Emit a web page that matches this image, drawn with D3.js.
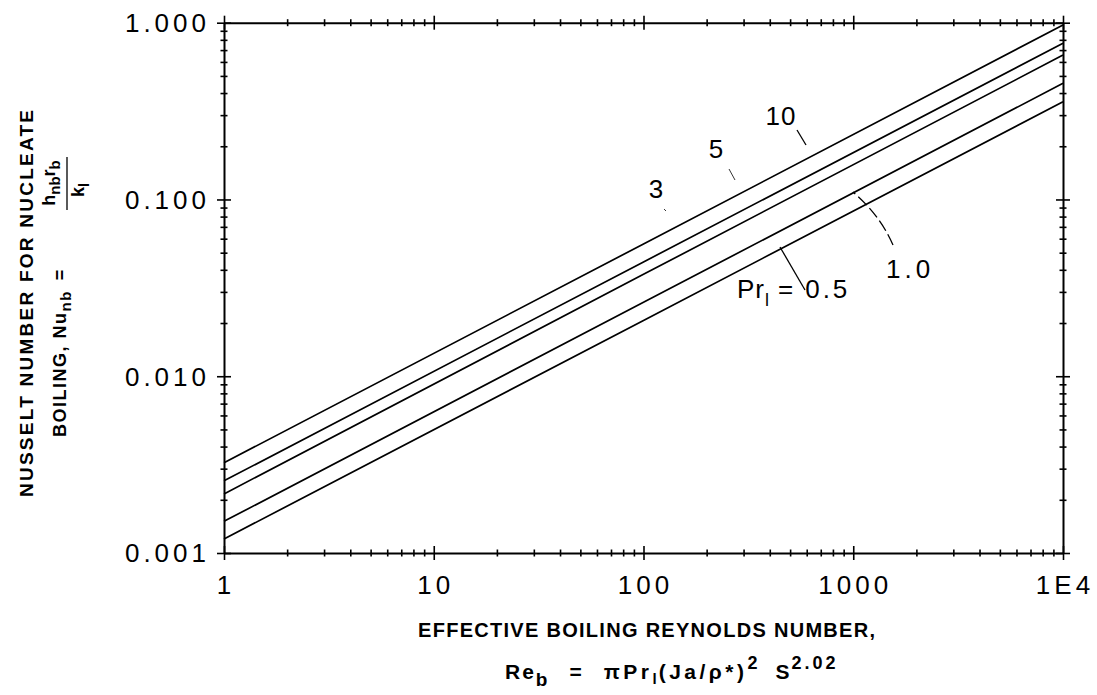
<!DOCTYPE html>
<html><head><meta charset="utf-8">
<script src="https://cdn.jsdelivr.net/npm/d3@7"></script>
<style>body{margin:0;background:#fff}svg{display:block}</style>
</head><body><svg id="c" width="1097" height="695"></svg>
<script>
// ---- data ----
const reynolds = [1, 100, 10000];
const prandtl = ["0.5", "1.0", "3", "5", "10"];
const nu_pr05 = [0.00120, 0.0207, 0.357];
const nu_pr1  = [0.00151, 0.0262, 0.454];
const nu_pr3  = [0.00216, 0.0377, 0.656];
const nu_pr5  = [0.00256, 0.0443, 0.765];
const nu_pr10 = [0.00324, 0.0560, 0.970];
const xMajor = [1, 10, 100, 1000, 10000];
const xTickLabels = ["1", "10", "100", "1000", "1E4"];
const yMajor = [0.001, 0.01, 0.1, 1];
const yTickLabels = ["0.001", "0.010", "0.100", "1.000"];

const series = [nu_pr05, nu_pr1, nu_pr3, nu_pr5, nu_pr10].map((v, i) => ({
  pr: prandtl[i], pts: reynolds.map((r, j) => [r, v[j]])
}));

const svg = d3.select("#c");
const W = 1097, H = 695;
const m = {left: 224, right: 34, top: 22.7, bottom: 142};
const x = d3.scaleLog().domain([1, 1e4]).range([m.left, W - m.right]);
const y = d3.scaleLog().domain([0.001, 1]).range([H - m.bottom, m.top]);

function minors(major) {
  const out = [];
  for (let i = 0; i < major.length - 1; i++)
    for (let k = 2; k <= 9; k++) out.push(major[i] * k);
  return out;
}
const xTicks = xMajor.concat(minors(xMajor));
const yTicks = yMajor.concat(minors(yMajor));
const isMaj = (arr) => (d) => arr.some(v => Math.abs(v - d) / v < 1e-9);

const FONT = "'Liberation Sans', Arial, sans-serif";

// axes (ticks cross the frame line)
function styleAxis(g, major, horiz) {
  g.select(".domain").attr("stroke", "#000").attr("stroke-width", 2);
  g.selectAll(".tick text").remove();
  g.selectAll(".tick line").attr("stroke", "#000").attr("stroke-width", 1.6)
    .each(function (d) {
      const s = isMaj(major)(d) ? 7 : 3.5;
      if (horiz) d3.select(this).attr("y1", -s).attr("y2", s);
      else d3.select(this).attr("x1", -s).attr("x2", s);
    });
}
svg.append("g").attr("transform", `translate(0,${y(0.001)})`)
  .call(d3.axisBottom(x).tickValues(xTicks).tickSizeOuter(0))
  .call(g => styleAxis(g, xMajor, true));
svg.append("g").attr("transform", `translate(0,${y(1)})`)
  .call(d3.axisTop(x).tickValues(xTicks).tickSizeOuter(0))
  .call(g => styleAxis(g, xMajor, true));
svg.append("g").attr("transform", `translate(${x(1)},0)`)
  .call(d3.axisLeft(y).tickValues(yTicks).tickSizeOuter(0))
  .call(g => styleAxis(g, yMajor, false));
svg.append("g").attr("transform", `translate(${x(1e4)},0)`)
  .call(d3.axisRight(y).tickValues(yTicks).tickSizeOuter(0))
  .call(g => styleAxis(g, yMajor, false));

// tick labels
svg.append("g").selectAll("text").data(xMajor).join("text")
  .attr("x", d => x(d) + 2).attr("y", y(0.001) + 41)
  .attr("text-anchor", "middle").attr("font-family", FONT)
  .attr("font-size", 26).attr("letter-spacing", 4)
  .text((d, i) => xTickLabels[i]);
svg.append("g").selectAll("text").data(yMajor).join("text")
  .attr("x", x(1) - 14).attr("y", d => y(d)).attr("dy", "0.36em")
  .attr("text-anchor", "end").attr("font-family", FONT)
  .attr("font-size", 26).attr("letter-spacing", 4)
  .text((d, i) => yTickLabels[i]);

// curves
const line = d3.line().x(d => x(d[0])).y(d => y(d[1]));
svg.append("g").selectAll("path").data(series).join("path")
  .attr("d", d => line(d.pts)).attr("fill", "none")
  .attr("stroke", "#000").attr("stroke-width", 1.7);

// curve annotations
const ann = svg.append("g").attr("font-family", FONT).attr("font-size", 26);
ann.append("text").attr("x", 781).attr("y", 125).attr("text-anchor", "middle").attr("letter-spacing", 1).text(prandtl[4]);
ann.append("text").attr("x", 716).attr("y", 158).attr("text-anchor", "middle").text(prandtl[3]);
ann.append("text").attr("x", 656).attr("y", 198).attr("text-anchor", "middle").text(prandtl[2]);
ann.append("text").attr("x", 886).attr("y", 278).attr("letter-spacing", 4).text(prandtl[1]);
const pt = ann.append("text").attr("x", 737).attr("y", 298);
pt.append("tspan").attr("letter-spacing", 1).text("Pr");
pt.append("tspan").attr("font-size", 18).attr("dy", 8).text("l");
pt.append("tspan").attr("dy", -8).attr("dx", 9).text("=");
pt.append("tspan").attr("dx", 12).attr("letter-spacing", 3).text(prandtl[0]);
const lead = svg.append("g").attr("stroke", "#000").attr("stroke-width", 1.3).attr("fill", "none");
lead.append("line").attr("x1", 797).attr("y1", 130).attr("x2", 806).attr("y2", 145);
lead.append("line").attr("x1", 729).attr("y1", 169).attr("x2", 735).attr("y2", 180).attr("stroke-width", 0.8);
lead.append("line").attr("x1", 664).attr("y1", 209).attr("x2", 666).attr("y2", 211).attr("stroke-width", 0.8);
lead.append("path").attr("d", "M893,245 Q880,215 853,192").attr("stroke-dasharray", "12,4");
lead.append("line").attr("x1", 805).attr("y1", 290).attr("x2", 780).attr("y2", 247);

// x-axis title
const xt = svg.append("g").attr("font-family", FONT);
xt.append("text").attr("x", 418).attr("y", 637).attr("font-size", 20).attr("font-weight", "bold")
  .attr("textLength", 457).attr("lengthAdjust", "spacing")
  .text("EFFECTIVE BOILING REYNOLDS NUMBER,");
const x2 = xt.append("text").attr("x", 505).attr("y", 679).attr("font-size", 21).attr("font-weight", 600)
  .attr("letter-spacing", 2);
x2.append("tspan").text("Re");
x2.append("tspan").attr("font-size", 19).attr("dy", 7).text("b");
x2.append("tspan").attr("dy", -7).attr("dx", 20).text("=");
x2.append("tspan").attr("dx", 20).attr("letter-spacing", 3.5).text("πPr");
x2.append("tspan").attr("font-size", 15).attr("dy", 5).text("l");
x2.append("tspan").attr("dy", -5).attr("letter-spacing", 3.5).text("(Ja/ρ*)");
x2.append("tspan").attr("font-size", 18).attr("dy", -10).text("2");
x2.append("tspan").attr("dy", 10).attr("dx", 16).text("S");
x2.append("tspan").attr("font-size", 18).attr("dy", -10).attr("letter-spacing", 3).text("2.02");

// y-axis title (rotated)
const yt = svg.append("g").attr("font-family", FONT).attr("transform", "rotate(-90)");
yt.append("text").attr("x", -497).attr("y", 33).attr("font-size", 19).attr("font-weight", "bold")
  .attr("textLength", 387).attr("lengthAdjust", "spacing")
  .text("NUSSELT NUMBER FOR NUCLEATE");
const y2 = yt.append("text").attr("x", -437).attr("y", 66).attr("font-size", 18).attr("font-weight", "bold")
  .attr("letter-spacing", 1.5);
y2.append("tspan").text("BOILING, Nu");
y2.append("tspan").attr("font-size", 15).attr("dy", 5).text("nb");
y2.append("tspan").attr("dy", -5).attr("dx", 10).text("=");
// fraction h_nb r_b / k_l
const num = yt.append("text").attr("x", -183).attr("y", 55).attr("text-anchor", "middle")
  .attr("font-size", 18).attr("font-weight", "bold");
num.append("tspan").text("h");
num.append("tspan").attr("font-size", 15).attr("dy", 5).text("nb");
num.append("tspan").attr("dy", -5).text("r");
num.append("tspan").attr("font-size", 15).attr("dy", 5).text("b");
yt.append("line").attr("x1", -210).attr("x2", -157).attr("y1", 67).attr("y2", 67)
  .attr("stroke", "#000").attr("stroke-width", 1.3);
const den = yt.append("text").attr("x", -190).attr("y", 84).attr("text-anchor", "middle")
  .attr("font-size", 18).attr("font-weight", "bold");
den.append("tspan").text("k");
den.append("tspan").attr("font-size", 15).attr("dy", 5).text("l");
</script></body></html>
